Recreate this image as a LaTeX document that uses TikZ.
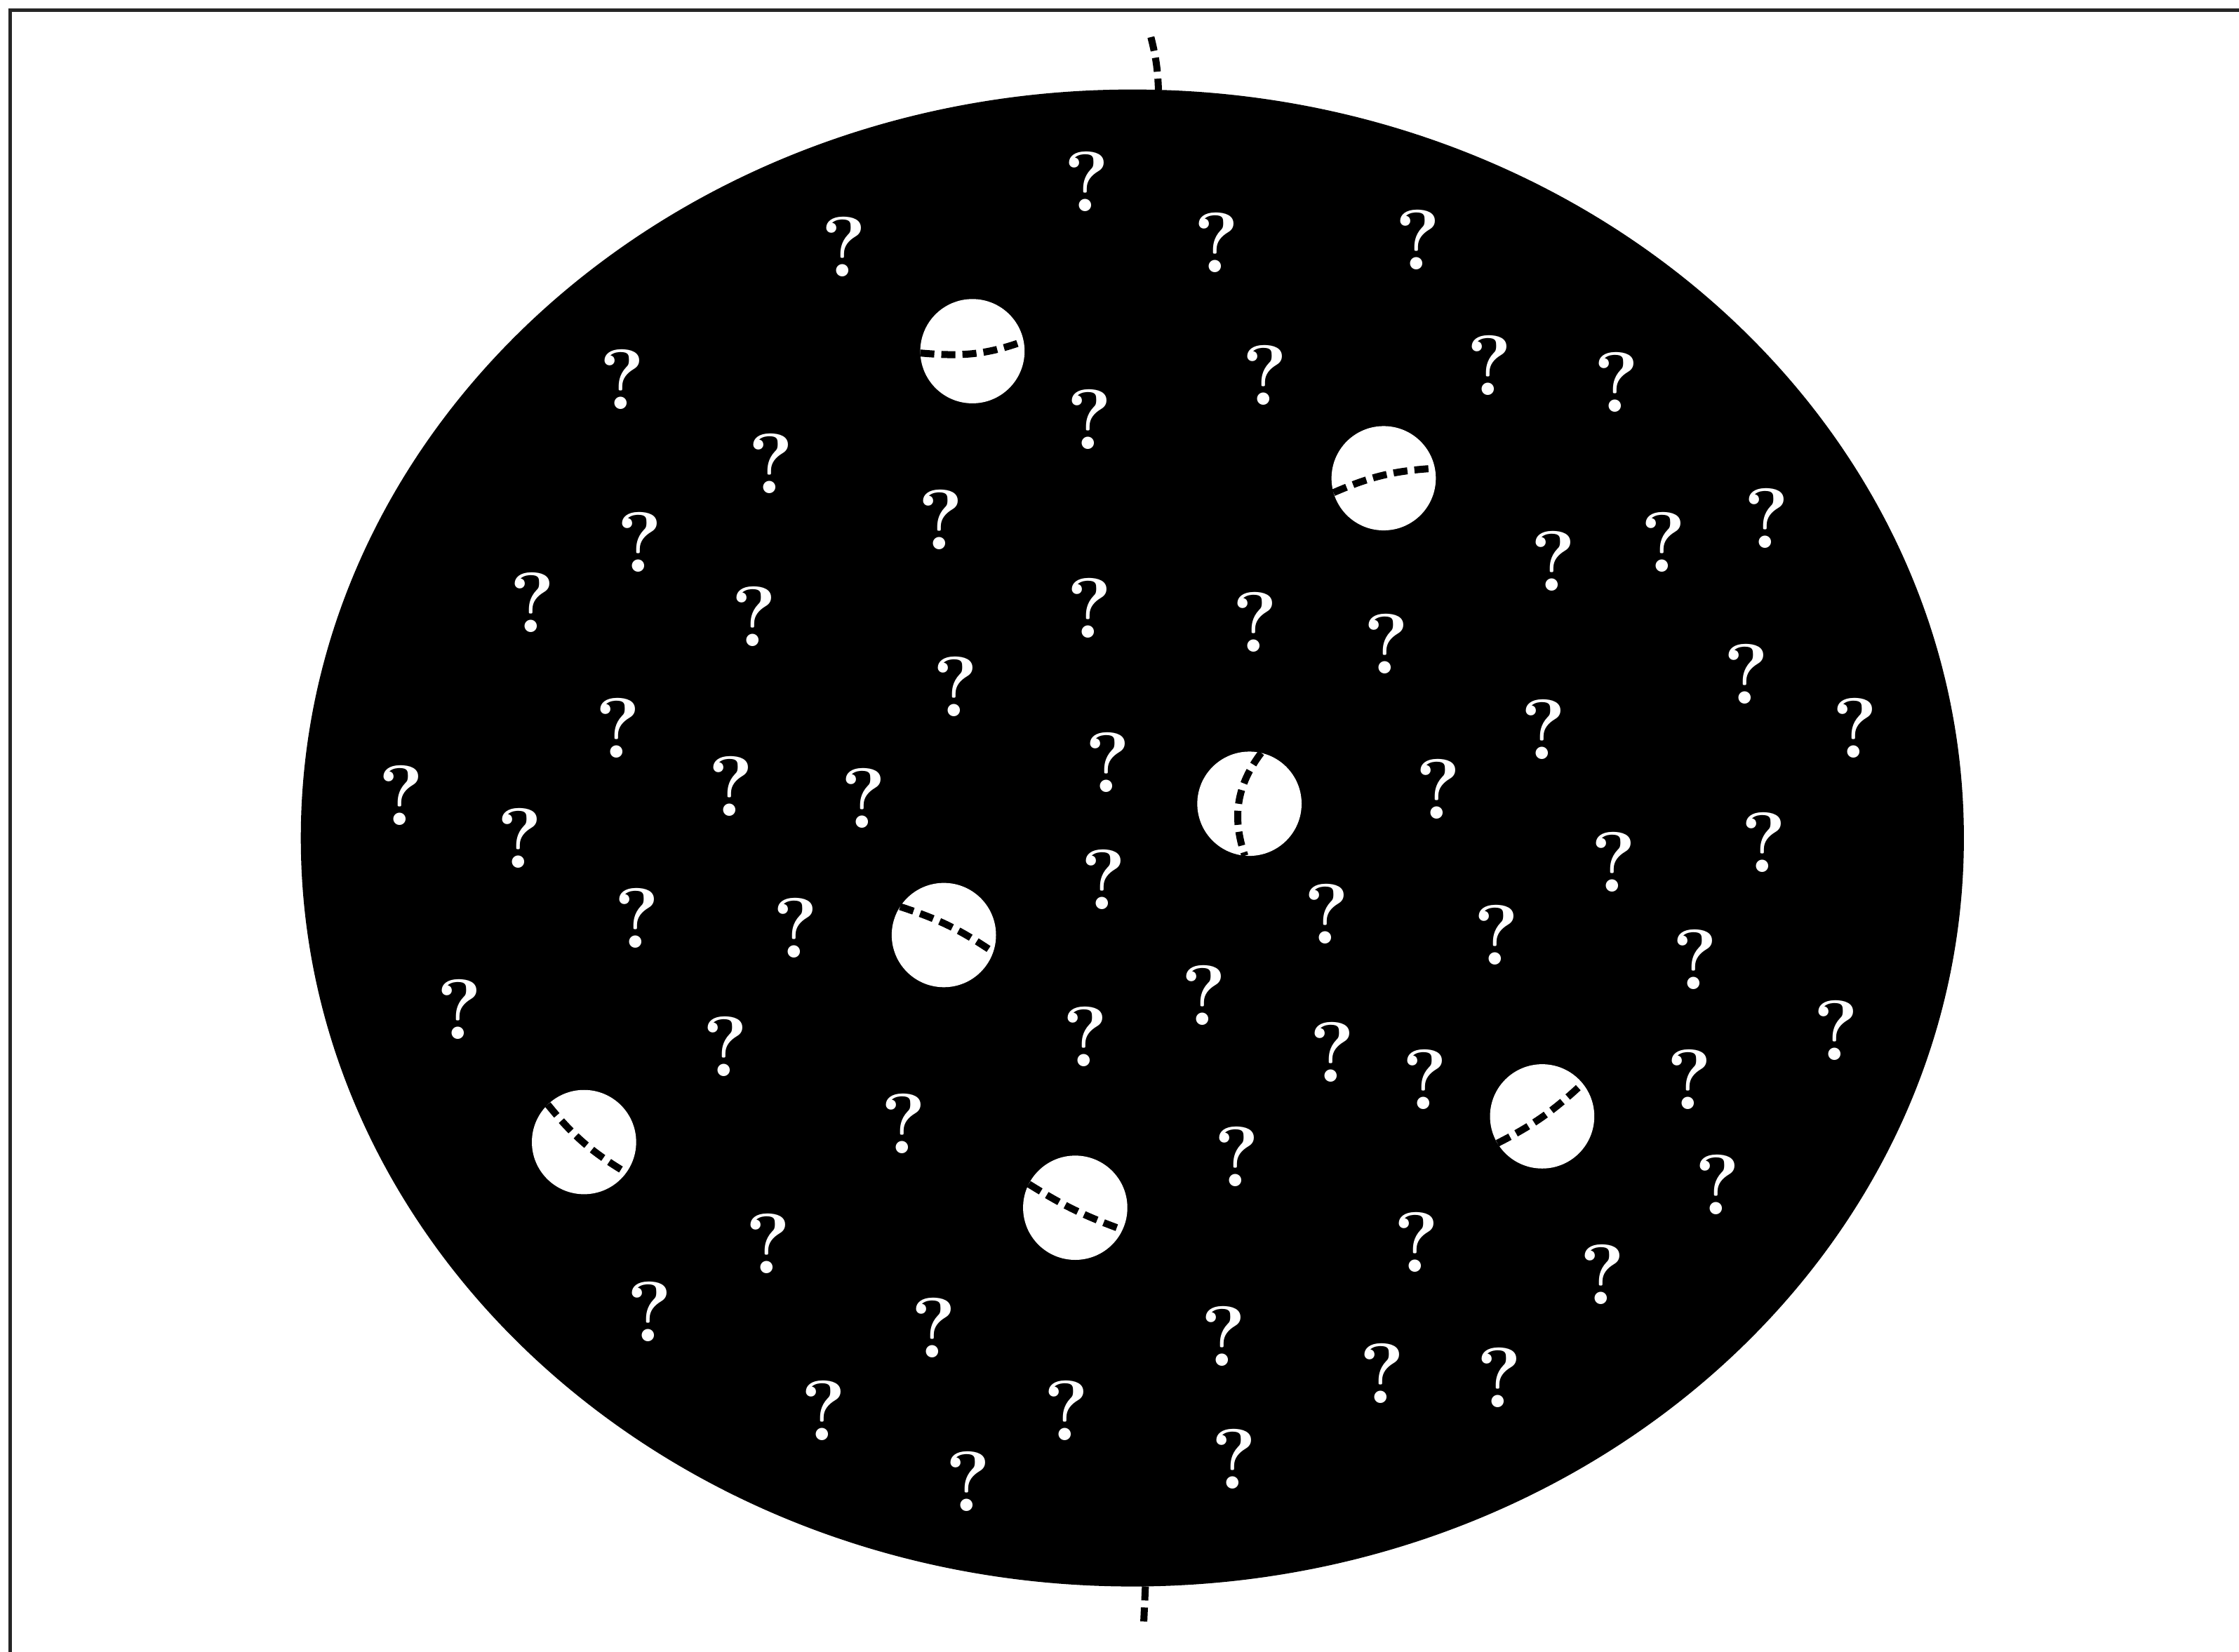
\documentclass[tikz,border=0pt]{standalone}
\usetikzlibrary{shapes.geometric}

\begin{document}
\begin{tikzpicture}[x=0.01cm, y=-0.01cm,
  disc/.style={ellipse, fill=black, inner sep=0pt, outer sep=0pt, minimum width=11.64cm, minimum height=10.48cm},
  ball/.style={circle, fill=white, inner sep=0pt, outer sep=0pt, minimum size=0.73cm},
  seam/.style={black, line width=1.4pt, dash pattern=on 2.8pt off 1.4pt},
  qmark/.style={text=white, inner sep=0pt, font=\fontsize{17}{20}\selectfont\bfseries},
  frame/.style={draw=black!85, line width=0.7pt}
]
\useasboundingbox (0,0) rectangle (1568,1157);
\draw[frame] (7,1170) |- (1580,7);

% the big disc and its axis
\node[disc] (disc) at (793,587) {};
\coordinate (ntop) at (806,26);
\coordinate (nbot) at (801,1136);
\draw[seam] (ntop) to[bend left=6] (disc.88);
\draw[seam] (disc.271) -- (nbot);

% question marks
\foreach \x/\y [count=\i] in {
  761/127, 591/173, 852/170, 993/168,
  436/266, 763/294, 886/263, 1043/256, 1132/268,
  540/325, 659/364, 448/380, 1088/393, 1165/380, 1237/363,
  373/422, 528/432, 763/426, 879/436, 971/451,
  669/481, 1223/472, 433/510, 1081/511, 1299/510,
  281/557, 512/551, 605/559, 776/534, 1007/553,
  364/587, 1130/604, 1235/590,
  446/643, 557/650, 773/616, 929/640, 1048/655, 1187/672,
  322/707, 843/697, 1286/722,
  508/733, 760/726, 933/737, 998/756, 1183/756,
  633/787, 866/810, 1203/830,
  538/871, 992/870, 455/919, 1122/893,
  654/930, 857/936,
  577/988, 747/988, 968/962, 1050/965,
  678/1038, 864/1022}
  \node[qmark] (q\i) at (\x,\y) {?};

% white balls with seams
\node[ball] (b1) at (681,246) {};
\node[ball] (b2) at (969,335) {};
\node[ball] (b3) at (875,563) {};
\node[ball] (b4) at (661,655) {};
\node[ball] (b5) at (409,800) {};
\node[ball] (b6) at (753,846) {};
\node[ball] (b7) at (1080,782) {};

\draw[seam] (b1.182) to[out=-5, in=200] (b1.11);
\draw[seam] (b2.196) to[bend left=10] (b2.11);
\draw[seam] (b3.77) to[bend right=28] (b3.265);
\draw[seam] (b4.147) to[bend left=8] (b4.341);
\draw[seam] (b5.134) to[bend right=10] (b5.324);
\draw[seam] (b6.153) to[bend right=6] (b6.335);
\draw[seam] (b7.211) to[bend right=8] (b7.39);
\end{tikzpicture}
\end{document}
